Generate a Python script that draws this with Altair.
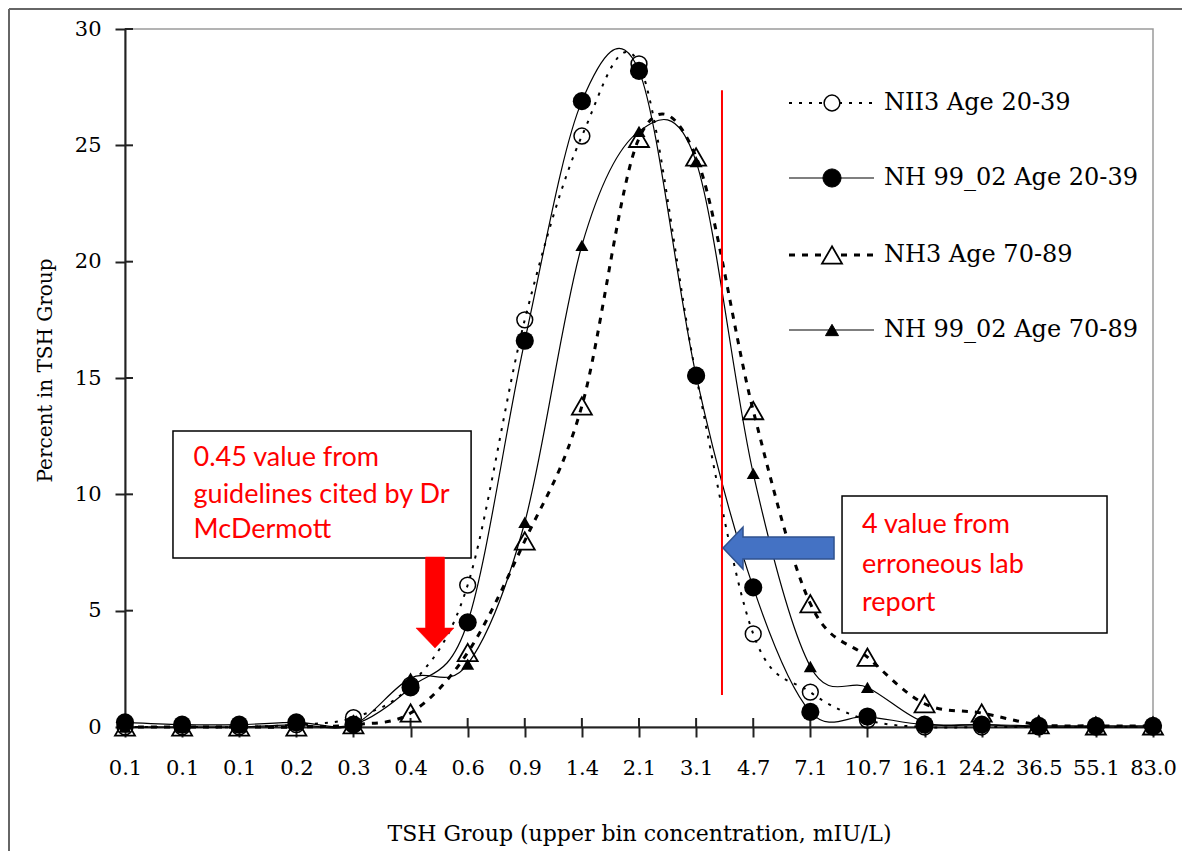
import altair as alt
import pandas as pd

# ---------------- data ----------------
labels = ["0.1", "0.1", "0.1", "0.2", "0.3", "0.4", "0.6", "0.9", "1.4", "2.1",
          "3.1", "4.7", "7.1", "10.7", "16.1", "24.2", "36.5", "55.1", "83.0"]
nh3_20_39 = [0.0, 0.0, 0.0, 0.1, 0.4, 1.8, 6.1, 17.5, 25.4, 28.5, 15.1, 4.0, 1.5, 0.3, 0.0, 0.0, 0.0, 0.0, 0.0]
nh99_20_39 = [0.2, 0.1, 0.1, 0.2, 0.1, 1.7, 4.5, 16.6, 26.9, 28.2, 15.1, 6.0, 0.65, 0.45, 0.1, 0.1, 0.05, 0.05, 0.05]
nh3_70_89 = [0.0, 0.0, 0.0, 0.0, 0.1, 0.6, 3.2, 8.0, 13.8, 25.3, 24.5, 13.6, 5.3, 3.0, 1.0, 0.6, 0.1, 0.05, 0.05]
nh99_70_89 = [0.0, 0.0, 0.0, 0.1, 0.1, 2.1, 2.7, 8.8, 20.7, 25.6, 24.3, 10.9, 2.6, 1.7, 0.2, 0.1, 0.0, 0.0, 0.0]
series_names = ["NII3 Age 20-39", "NH 99_02 Age 20-39", "NH3 Age 70-89", "NH 99_02 Age 70-89"]
series_values = [nh3_20_39, nh99_20_39, nh3_70_89, nh99_70_89]
y_ticks = [0, 5, 10, 15, 20, 25, 30]

note1 = ["0.45 value from", "guidelines cited by Dr", "McDermott"]
note2 = ["4 value from", "erroneous lab", "report"]

# ---------------- styles ----------------
styles = [
    dict(dash=[3, 7], width=2.0, shape="circle", filled=False, size=250, sw=1.5),
    dict(dash=None, width=1.2, shape="circle", filled=True, size=330, sw=1),
    dict(dash=[6, 7], width=3.0, shape="triangle-up", filled=False, size=400, sw=1.8),
    dict(dash=None, width=1.2, shape="triangle-up", filled=True, size=170, sw=1),
]

W, H = 1028, 698
SERIF = "DejaVu Serif"
n = len(labels)
label_expr = "[" + ",".join("'%s'" % s for s in labels) + "][datum.value]"

x_axis = alt.Axis(values=list(range(n)), labelExpr=label_expr, labelFont=SERIF,
                  labelFontSize=21, labelColor="black", labelOverlap=False,
                  labelFlush=False, labelBound=False, labelPadding=20,
                  tickSize=10, tickWidth=2, tickColor="#222", domainColor="#222",
                  domainWidth=2, grid=False,
                  title="TSH Group (upper bin concentration, mIU/L)", titleFont=SERIF,
                  titleFontSize=22, titleFontWeight="normal", titleColor="black",
                  titleY=106, titleBaseline="middle")
y_axis = alt.Axis(values=y_ticks, labelFont=SERIF, labelFontSize=21, labelColor="black",
                  labelPadding=14, tickSize=10, tickWidth=2, tickColor="#222",
                  domainColor="#222", domainWidth=2, grid=False,
                  title="Percent in TSH Group", titleFont=SERIF, titleFontSize=20,
                  titleFontWeight="normal", titleColor="black", titleAngle=-90,
                  titleX=-80, titleY=341, titleAlign="center", titleBaseline="middle")

xs = alt.Scale(domain=[0, n - 1], nice=False)
ys = alt.Scale(domain=[0, 30], nice=False, zero=False)


def X(f):
    return alt.X(f, scale=xs, axis=x_axis)


def Y(f):
    return alt.Y(f, scale=ys, axis=y_axis)


layers = []
dummy = pd.DataFrame({"a": [0]})

# inner tick halves
layers.append(alt.Chart(pd.DataFrame({"i": list(range(1, n))})).mark_rule(
    color="#222", strokeWidth=2).encode(
    x=X("i:Q"), y=alt.value(H), y2=alt.value(H - 9)))
layers.append(alt.Chart(pd.DataFrame({"v": y_ticks[1:]})).mark_rule(
    color="#222", strokeWidth=2).encode(
    y=Y("v:Q"), x=alt.value(0), x2=alt.value(8)))

for name, vals, st in zip(series_names, series_values, styles):
    df = pd.DataFrame({"i": list(range(n)), "v": vals, "s": name})
    lk = dict(interpolate="cardinal", tension=0, color="black", strokeWidth=st["width"])
    if st["dash"]:
        lk["strokeDash"] = st["dash"]
    layers.append(alt.Chart(df).mark_line(**lk).encode(x=X("i:Q"), y=Y("v:Q")))
    pk = dict(shape=st["shape"], filled=st["filled"], size=st["size"], opacity=1,
              strokeWidth=st["sw"], color="black")
    layers.append(alt.Chart(df).mark_point(**pk).encode(x=X("i:Q"), y=Y("v:Q")))

# legend (manual)
leg_y = [74, 149, 226, 301]
for name, st, ly in zip(series_names, styles, leg_y):
    lk = dict(color="black", strokeWidth=st["width"])
    if st["dash"]:
        lk["strokeDash"] = st["dash"]
    layers.append(alt.Chart(dummy).mark_rule(**lk).encode(
        x=alt.value(664), x2=alt.value(749), y=alt.value(ly)))
    layers.append(alt.Chart(dummy).mark_point(shape=st["shape"], filled=True,
                                              size=st["size"], opacity=1,
                                              strokeWidth=st["sw"], stroke="black",
                                              fill="black" if st["filled"] else "white").encode(
        x=alt.value(707), y=alt.value(ly)))
    layers.append(alt.Chart(pd.DataFrame({"t": [name]})).mark_text(
        align="left", baseline="middle", font=SERIF, fontSize=24, color="black").encode(
        x=alt.value(759), y=alt.value(ly), text="t:N"))

# red vertical line at TSH 4
layers.append(alt.Chart(pd.DataFrame({"x": [10.453], "y1": [27.37], "y2": [1.375]})).mark_rule(
    color="#ff0000", strokeWidth=2).encode(x=X("x:Q"), y=Y("y1:Q"), y2="y2:Q"))

# annotation boxes
boxes = pd.DataFrame({"x1": [0.84, 12.555], "x2": [6.06, 17.195],
                      "y1": [12.72, 9.93], "y2": [7.26, 4.04]})
layers.append(alt.Chart(boxes).mark_rect(fill="white", stroke="black", strokeWidth=1.5).encode(
    x=X("x1:Q"), x2="x2:Q", y=Y("y1:Q"), y2="y2:Q"))

t1 = pd.DataFrame({"t": note1, "x": [1.2] * 3, "y": [11.56, 9.97, 8.47]})
t2 = pd.DataFrame({"t": note2, "x": [12.905] * 3, "y": [8.68, 6.96, 5.33]})
for tdf in (t1, t2):
    layers.append(alt.Chart(tdf).mark_text(align="left", baseline="middle", font="Lato",
                                           fontSize=27, color="#ff0000").encode(
        x=X("x:Q"), y=Y("y:Q"), text="t:N"))

# arrows
red_arrow = "M-0.209,-1L0.209,-1L0.209,0.56L0.418,0.56L0,1L-0.418,0.56L-0.209,0.56Z"
blue_arrow = "M-1,0L-0.64,-0.378L-0.64,-0.198L1,-0.198L1,0.198L-0.64,0.198L-0.64,0.378Z"
layers.append(alt.Chart(pd.DataFrame({"x": [5.428], "y": [5.35]})).mark_point(
    shape=red_arrow, size=8281, filled=True, fill="#ff0000", stroke="#ff0000",
    strokeWidth=0.5, opacity=1).encode(x=X("x:Q"), y=Y("y:Q")))
layers.append(alt.Chart(pd.DataFrame({"x": [11.443], "y": [7.69]})).mark_point(
    shape=blue_arrow, size=12321, filled=True, fill="#4472C4", stroke="#2F528F",
    strokeWidth=1.5, opacity=1).encode(x=X("x:Q"), y=Y("y:Q")))

# outer frame (left and top)
layers.append(alt.Chart(dummy).mark_rule(color="#666", strokeWidth=2).encode(
    x=alt.value(-116), y=alt.value(-20), y2=alt.value(H + 124)))
layers.append(alt.Chart(dummy).mark_rule(color="#666", strokeWidth=2).encode(
    x=alt.value(-116), x2=alt.value(W + 29), y=alt.value(-20)))

chart = alt.layer(*layers).properties(
    width=W, height=H,
    padding={"left": 117, "top": 21, "right": 29, "bottom": 124},
    autosize=alt.AutoSizeParams(type="none"),
    background="white",
).configure_view(stroke="#9a9a9a", strokeWidth=1.5)

chart.save("out.html", embed_options={"renderer": "svg", "actions": False})
